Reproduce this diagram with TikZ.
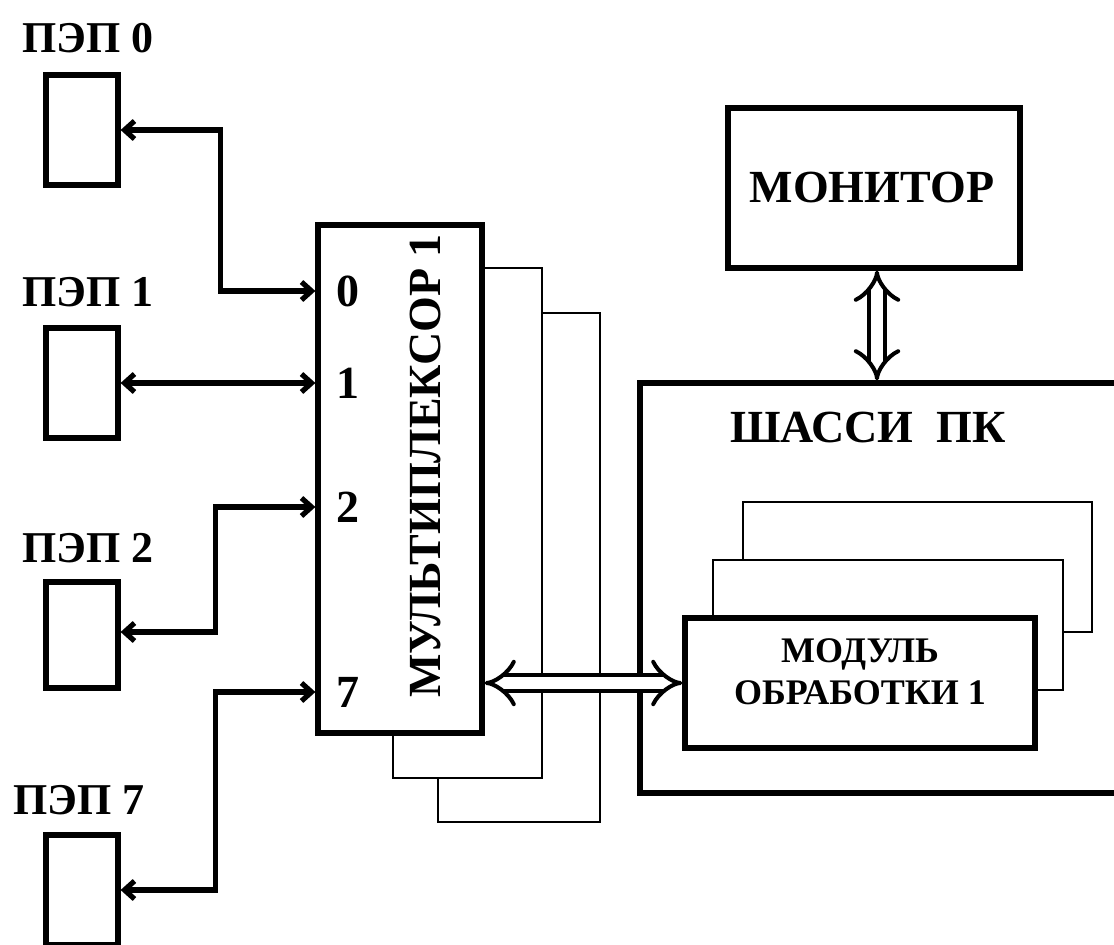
\documentclass[tikz,border=0pt]{standalone}
\usepackage{fontspec}
\setmainfont{Liberation Serif}
\usetikzlibrary{arrows.meta,fit,calc}
\begin{document}
\begin{tikzpicture}[x=0.5pt,y=-0.5pt,
  thickbox/.style={draw, line width=2.6pt, fill=white, inner sep=0pt},
  thinbox/.style={draw, line width=1.2pt, fill=white, inner sep=0pt},
  lbl/.style={font=\bfseries\fontsize{22}{26}\selectfont, inner sep=0pt},
  num/.style={font=\bfseries\fontsize{23}{26}\selectfont, inner sep=0pt},
  big/.style={font=\bfseries\fontsize{23}{27}\selectfont, inner sep=0pt},
  small/.style={font=\bfseries\fontsize{18}{21}\selectfont, inner sep=0pt, align=center},
  sig/.style={line width=2.6pt, {Straight Barb[length=5pt,width=9pt]}-{Straight Barb[length=5pt,width=9pt]}},
  bus/.style={line width=2pt, double distance=6pt, {Implies[length=4pt,width=13pt]}-{Implies[length=4pt,width=13pt]}}
]
\useasboundingbox (0,0) rectangle (1114,945);
\clip (0,0) rectangle (1114,945);
\fill[white] (0,0) rectangle (1114,945);

% sensors
\node[lbl] (t0) at (88,38) {ПЭП 0};
\node[lbl] (t1) at (88,292) {ПЭП 1};
\node[lbl] (t2) at (88,548) {ПЭП 2};
\node[lbl] (t7) at (79,800) {ПЭП 7};
\node[thickbox, fit={(46,75)(118,185)}] (p0) {};
\node[thickbox, fit={(46,328)(118,438)}] (p1) {};
\node[thickbox, fit={(46,582)(118,688)}] (p2) {};
\node[thickbox, fit={(46,835)(118,945)}] (p7) {};

% multiplexer stack
\node[thinbox, fit={(438,313)(600,822)}] (m3) {};
\node[thinbox, fit={(393,268)(542,778)}] (m2) {};
\node[thickbox, fit={(318,225)(482,733)}] (mux) {};
\node[big, rotate=90] (mt) at (425,466) {МУЛЬТИПЛЕКСОР 1};
\node[num] (n0) at (348,291) {0};
\node[num] (n1) at (348,383) {1};
\node[num] (n2) at (348,507) {2};
\node[num] (n7) at (348,692) {7};

% PC
\node[thickbox, fit={(728,108)(1020,268)}] (mon) {};
\node[big] (mont) at (872,188) {МОНИТОР};
\node[thickbox, fit={(640,383)(1140,793)}] (pc) {};
\node[big] (pct) at (868,428) {ШАССИ\ \ ПК};
\node[thinbox, fit={(743,502)(1092,632)}] (d3) {};
\node[thinbox, fit={(713,560)(1063,690)}] (d2) {};
\node[thickbox, fit={(685,618)(1035,748)}] (dsp) {};
\node[small] (dspt) at (860,672) {МОДУЛЬ\\[0pt]ОБРАБОТКИ 1};

% signal lines
\draw[sig] (p0.east) -- ++(100,0) |- (n0 -| mux.west);
\draw[sig] (p1.east) -- (n1 -| mux.west);
\draw[sig] (n2 -| mux.west) -- ++(-100,0) |- ($(p2.east)+(0,-3)$);
\draw[sig] (n7 -| mux.west) -- ++(-100,0) |- (p7.east);

% buses
\draw[bus] (dsp.west -| mux.east) -- (dsp.west);
\draw[bus] ($(mon.south)+(3,0)$) -- ($(mon.south |- pc.north)+(3,0)$);
\end{tikzpicture}
\end{document}
